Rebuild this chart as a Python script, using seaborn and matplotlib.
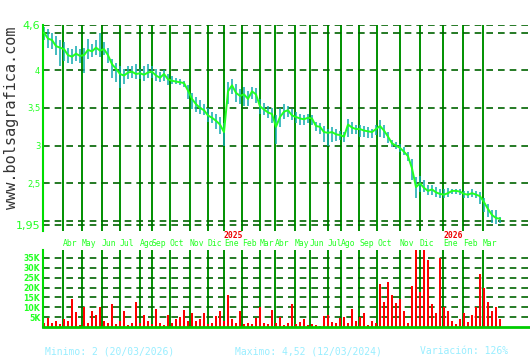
import numpy as np
import pandas as pd
import matplotlib
matplotlib.use("Agg")
import matplotlib.pyplot as plt
import matplotlib.transforms as mtransforms
import seaborn as sns

# ---------------- data ----------------
close = [4.50, 4.42, 4.40, 4.32, 4.30, 4.28, 4.20, 4.18, 4.22, 4.19,
         4.20, 4.27, 4.25, 4.30, 4.26, 4.28, 4.20, 4.08, 4.02, 3.95,
         3.93, 3.97, 3.98, 3.95, 3.96, 3.94, 3.97, 3.98, 3.93, 3.90,
         3.95, 3.88, 3.86, 3.85, 3.84, 3.83, 3.73, 3.62, 3.55, 3.50,
         3.47, 3.40, 3.37, 3.33, 3.28, 3.18, 3.72, 3.80, 3.70, 3.66,
         3.68, 3.62, 3.72, 3.68, 3.52, 3.48, 3.44, 3.42, 3.25, 3.38,
         3.45, 3.47, 3.40, 3.38, 3.36, 3.35, 3.37, 3.36, 3.26, 3.25,
         3.18, 3.17, 3.18, 3.15, 3.14, 3.12, 3.28, 3.24, 3.22, 3.22,
         3.20, 3.19, 3.18, 3.22, 3.26, 3.20, 3.12, 3.03, 3.00, 2.97,
         2.92, 2.86, 2.70, 2.45, 2.50, 2.44, 2.40, 2.42, 2.38, 2.36,
         2.35, 2.37, 2.40, 2.40, 2.39, 2.36, 2.35, 2.37, 2.35, 2.33,
         2.25, 2.16, 2.08, 2.04, 2.03]

high = [4.58, 4.55, 4.50, 4.45, 4.40, 4.38, 4.30, 4.28, 4.32, 4.28,
        4.30, 4.42, 4.35, 4.40, 4.50, 4.38, 4.30, 4.15, 4.10, 4.05,
        4.02, 4.06, 4.05, 4.08, 4.02, 4.05, 4.08, 4.06, 4.02, 3.98,
        4.00, 3.95, 3.92, 3.90, 3.88, 3.86, 3.80, 3.70, 3.65, 3.60,
        3.55, 3.50, 3.45, 3.42, 3.38, 3.30, 3.85, 3.88, 3.82, 3.75,
        3.78, 3.72, 3.78, 3.76, 3.62, 3.56, 3.52, 3.50, 3.40, 3.50,
        3.55, 3.52, 3.48, 3.45, 3.42, 3.40, 3.42, 3.40, 3.32, 3.30,
        3.26, 3.22, 3.25, 3.22, 3.20, 3.18, 3.35, 3.32, 3.28, 3.28,
        3.26, 3.25, 3.22, 3.28, 3.34, 3.28, 3.18, 3.08, 3.05, 3.02,
        2.98, 2.92, 2.82, 2.58, 2.60, 2.54, 2.48, 2.48, 2.45, 2.42,
        2.42, 2.44, 2.42, 2.42, 2.42, 2.40, 2.40, 2.42, 2.40, 2.38,
        2.30, 2.22, 2.14, 2.14, 2.06]

low = [4.40, 4.30, 4.28, 4.20, 4.05, 4.12, 4.10, 4.08, 4.12, 4.10,
       3.96, 4.15, 4.18, 4.20, 4.18, 4.20, 4.10, 3.90, 3.85, 3.76,
       3.82, 3.88, 3.90, 3.88, 3.88, 3.86, 3.90, 3.90, 3.86, 3.84,
       3.86, 3.80, 3.82, 3.82, 3.80, 3.78, 3.62, 3.48, 3.45, 3.42,
       3.40, 3.32, 3.30, 3.22, 3.15, 3.00, 3.55, 3.68, 3.58, 3.55,
       3.52, 3.52, 3.62, 3.56, 3.42, 3.40, 3.36, 3.30, 3.02, 3.25,
       3.35, 3.38, 3.34, 3.30, 3.28, 3.28, 3.30, 3.28, 3.20, 3.15,
       3.05, 3.00, 3.05, 3.06, 3.08, 3.05, 3.12, 3.15, 3.15, 3.12,
       3.12, 3.10, 3.10, 3.14, 3.12, 3.10, 3.04, 2.98, 2.95, 2.92,
       2.88, 2.80, 2.55, 2.30, 2.38, 2.38, 2.34, 2.35, 2.32, 2.30,
       2.30, 2.32, 2.36, 2.36, 2.34, 2.30, 2.30, 2.32, 2.30, 2.22,
       2.12, 2.06, 1.98, 1.96, 1.98]

volume_k = [2, 4.5, 2, 3, 1.5, 4, 3, 14, 7.5, 1,
            10, 2, 8, 6, 10, 3, 2, 11.5, 1.5, 3,
            8, 1, 2, 12.5, 2, 6, 3, 1.5, 9, 2,
            1, 6, 2, 4, 5, 8.5, 3, 7, 3, 4,
            7, 1.5, 2, 5.5, 8, 3, 16, 4, 2, 8,
            1.5, 2, 1.5, 4.5, 10, 2, 1.5, 8.5, 2, 5,
            1, 2, 11.5, 1.5, 2.5, 4, 1, 1.5, 1, 0.5,
            5.5, 6, 2.5, 2, 4.5, 5, 2, 9, 3, 5,
            7, 1, 3, 2, 22, 12.5, 23, 16, 12, 14,
            8, 2, 21, 39, 17.5, 39, 34, 11.5, 7, 35,
            10, 8, 3, 1.5, 4, 7, 2.5, 6, 10, 27,
            20, 12.5, 8, 10, 4]

month_labels = ["Abr", "May", "Jun", "Jul", "Ago", "Sep", "Oct", "Nov", "Dic",
                "Ene", "Feb", "Mar", "Abr", "May", "Jun", "Jul", "Ago", "Sep",
                "Oct", "Nov", "Dic", "Ene", "Feb", "Mar"]
month_pos = [20, 39, 59, 77, 97, 109, 127, 147, 165, 181, 199, 217,
             232, 252, 267, 285, 298, 316, 334, 357, 377, 400, 420, 440]
year_labels = ["2025", "2026"]
year_pos = [181, 400]

price_ticks = [1.95, 2.0, 2.5, 3.0, 3.5, 4.0, 4.5, 4.6]
price_ticklabels = ["1,95", "", "2,5", "3", "3,5", "4", "", "4,6"]
vol_ticks = [5, 10, 15, 20, 25, 30, 35]
vol_ticklabels = ["5K", "10K", "15K", "20K", "25K", "30K", "35K"]

footer = ["Minimo: 2 (20/03/2026)", "Maximo: 4,52 (12/03/2024)", "Variación: 126%"]
watermark = "www.bolsagrafica.com"

# ---------------- styling ----------------
GRID = "#006400"
VLINE = "#009000"
LIME = "#22ff22"
TEAL = "#10aab0"

W, H = 530, 360
fig = plt.figure(figsize=(W / 100, H / 100), dpi=100)
fig.patch.set_facecolor("white")

def fx(px):
    return px / W

def fy(py):
    return 1 - py / H

ax = fig.add_axes([fx(43), fy(231), fx(530 - 43), (231 - 25) / H])
axv = fig.add_axes([fx(43), fy(327), fx(530 - 43), (327 - 250) / H])

xpos = np.arange(len(close)) * 4 + 1
df = pd.DataFrame({"x": xpos, "close": close, "high": high, "low": low, "vol": volume_k})

for a in (ax, axv):
    a.set_facecolor("white")
    for s in ("top", "right", "bottom"):
        a.spines[s].set_visible(False)
    a.spines["left"].set_color("#00dd00")
    a.spines["left"].set_linewidth(1.5)
    a.set_xlim(0, 487)
    a.set_xticks(month_pos)
    a.tick_params(length=0)
    a.grid(axis="x", color=VLINE, linestyle="-", linewidth=1.4)
    a.grid(axis="y", color=GRID, linestyle=(0, (4, 3)), linewidth=1.2)
    a.set_axisbelow(True)

# ---- price panel ----
ax.vlines(df["x"], df["low"], df["high"], color=TEAL, linewidth=1.1, zorder=2)
sns.lineplot(data=df, x="x", y="close", ax=ax, color=LIME, linewidth=1.4, zorder=3)
ax.set_ylim(1.868, 4.6)
ax.set_yticks(price_ticks)
ax.set_yticklabels(price_ticklabels, color=LIME, family="DejaVu Sans")
for t, lab in zip(ax.get_yticklabels(), price_ticklabels):
    t.set_fontsize(8 if lab in ("4,6", "1,95") else 6)
ax.tick_params(axis="y", pad=2)
ax.set_xticklabels([])
ax.set_xlabel("")
ax.set_ylabel("")

# ---- volume panel ----
sns.barplot(data=df, x="x", y="vol", ax=axv, native_scale=True, color="#ff0000",
            saturation=1, width=0.7, errorbar=None, zorder=2)
axv.set_xlim(0, 487)
axv.set_ylim(0, 39)
axv.set_yticks(vol_ticks)
axv.set_yticklabels(vol_ticklabels, color=LIME, fontsize=5.6, fontweight="bold")
axv.tick_params(axis="y", pad=2)
axv.spines["bottom"].set_visible(True)
axv.spines["bottom"].set_color("#00cc00")
axv.spines["bottom"].set_linewidth(2)
axv.xaxis.tick_top()
axv.set_xticks(month_pos)
axv.set_xticklabels(month_labels, ha="left", color=LIME, fontsize=5.8,
                    family="DejaVu Sans Mono")
axv.tick_params(axis="x", pad=1.2, length=0)
axv.set_xlabel("")
axv.set_ylabel("")

# year labels
trans = mtransforms.blended_transform_factory(ax.transData, fig.transFigure)
for lab, p in zip(year_labels, year_pos):
    fig.text(p, fy(235), lab, transform=trans, color="#ee0000", fontsize=5.8,
             fontweight="bold", family="DejaVu Sans Mono", ha="left", va="center")

# watermark
fig.text(fx(12), fy(118), watermark, rotation=90, family="DejaVu Sans Mono",
         fontsize=11, color="#333333", ha="center", va="center")

# footer
for txt, px in zip(footer, [45, 235, 420]):
    fig.text(fx(px), fy(351), txt, family="DejaVu Sans Mono", fontsize=7,
             color="#99eeff", ha="left", va="center")

fig.savefig("out.png", dpi=100, facecolor="white")
